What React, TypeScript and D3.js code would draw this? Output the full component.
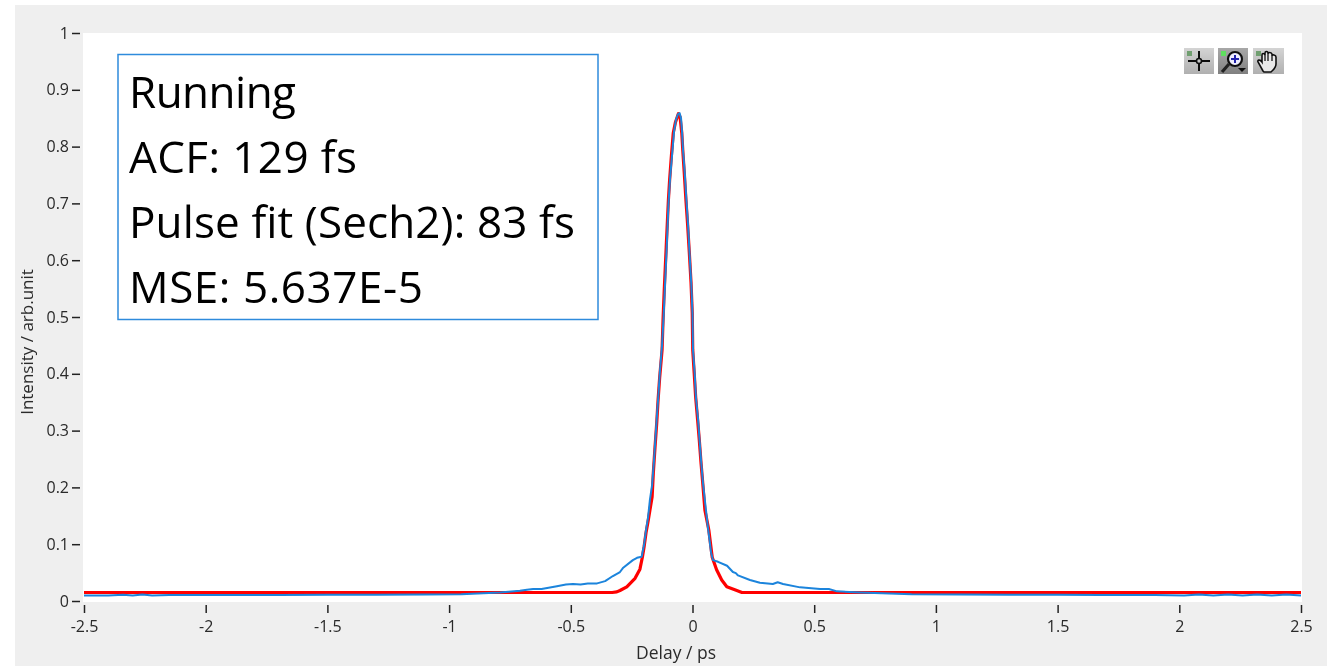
// App.tsx
import React, { useEffect, useRef } from "react";
import * as d3 from "d3";

const xTicks = [-2.5, -2, -1.5, -1, -0.5, 0, 0.5, 1, 1.5, 2, 2.5];
const yTicks = [0, 0.1, 0.2, 0.3, 0.4, 0.5, 0.6, 0.7, 0.8, 0.9, 1];
const infoLines = ["Running", "ACF: 129 fs", "Pulse fit (Sech2): 83 fs", "MSE: 5.637E-5"];
const infoWidths = [167, 228, 446, 294];

// fit curve
const fitDelay = [
  -2.5, -0.33, -0.311, -0.298, -0.27, -0.236, -0.216, -0.206, -0.199, -0.191, -0.183, -0.175, -0.166,
  -0.161, -0.154, -0.147, -0.142, -0.135, -0.125, -0.121, -0.116, -0.108, -0.099, -0.094, -0.087,
  -0.079, -0.07, -0.058, -0.051, -0.044, -0.04, -0.034, -0.027, -0.02, -0.013, -0.006, -0.001, 0.001,
  0.007, 0.013, 0.021, 0.028, 0.035, 0.042, 0.051, 0.067, 0.081, 0.099, 0.12, 0.141, 0.182, 0.203, 2.5,
];
const fitValue = [
  0.015, 0.015, 0.016, 0.0185, 0.025, 0.04, 0.056, 0.077, 0.095, 0.12, 0.139, 0.16, 0.183,
  0.225, 0.271, 0.313, 0.35, 0.393, 0.442, 0.495, 0.548, 0.623, 0.706, 0.741, 0.782,
  0.824, 0.843, 0.858, 0.852, 0.824, 0.794, 0.755, 0.706, 0.662, 0.613, 0.56, 0.507, 0.442,
  0.401, 0.359, 0.319, 0.283, 0.243, 0.208, 0.16, 0.125, 0.077, 0.055, 0.037, 0.025, 0.0185, 0.015, 0.015,
];

// measured trace
const traceDelay = [
  -2.5, -2.4, -2.34, -2.3, -2.26, -2.22, -2.15, -2.05, -1.9, -1.7, -1.5, -1.3, -1.1, -0.95, -0.791,
  -0.709, -0.68, -0.655, -0.62, -0.557, -0.52, -0.491, -0.46, -0.43, -0.392, -0.359, -0.327, -0.298, -0.286, -0.245, -0.228,
  -0.209, -0.199, -0.191, -0.183, -0.175, -0.166, -0.158, -0.152, -0.146, -0.14, -0.134, -0.125, -0.119,
  -0.113, -0.105, -0.099, -0.092, -0.084, -0.076, -0.068, -0.06, -0.053, -0.047, -0.043, -0.039, -0.032,
  -0.025, -0.018, -0.012, -0.005, 0, 0.002, 0.009, 0.014, 0.023, 0.029, 0.036, 0.043, 0.053, 0.062, 0.07,
  0.076, 0.084, 0.105, 0.142, 0.166, 0.178, 0.187, 0.236, 0.277, 0.33, 0.35, 0.372, 0.442, 0.524, 0.56, 0.594, 0.688,
  0.9, 1.1, 1.3, 1.5, 1.7, 1.9, 2.02, 2.08, 2.14, 2.2, 2.26, 2.32, 2.38, 2.44, 2.5,
];
const traceValue = [
  0.0095, 0.0095, 0.011, 0.0095, 0.0115, 0.0095, 0.0105, 0.0105, 0.0105, 0.0105, 0.011, 0.011, 0.0115, 0.012, 0.015,
  0.018, 0.02, 0.021, 0.021, 0.026, 0.029, 0.03, 0.029, 0.031, 0.031, 0.035, 0.044, 0.051, 0.058, 0.072, 0.076,
  0.078, 0.099, 0.125, 0.146, 0.178, 0.204, 0.248, 0.289, 0.327, 0.363, 0.403, 0.451, 0.498,
  0.556, 0.632, 0.697, 0.745, 0.785, 0.826, 0.847, 0.857, 0.859, 0.85, 0.826, 0.794, 0.755,
  0.706, 0.66, 0.611, 0.558, 0.505, 0.442, 0.401, 0.359, 0.319, 0.283, 0.243, 0.208, 0.169, 0.134, 0.107,
  0.086, 0.072, 0.069, 0.062, 0.051, 0.049, 0.045, 0.037, 0.032, 0.03, 0.033, 0.03, 0.024, 0.021, 0.021, 0.017, 0.015,
  0.012, 0.0115, 0.011, 0.011, 0.0105, 0.0105, 0.0095, 0.0115, 0.0095, 0.0115, 0.0095, 0.0115, 0.0095, 0.0115, 0.0095,
];

const labelFont = "'Open Sans', sans-serif";

// graph palette buttons, top right
function ToolButton({ x, w, dark, children }: { x: number; w: number; dark?: boolean; children: React.ReactNode }) {
  return (
    <g transform={`translate(${x},48)`}>
      <rect width={w} height={26} fill={dark ? "url(#btnDark)" : "url(#btnLight)"} />
      <rect x={3} y={3} width={5} height={5} fill={dark ? "#5fe05f" : "#6f9f6f"} />
      {children}
    </g>
  );
}

export default function App() {
  const xAxisRef = useRef<SVGGElement>(null);
  const yAxisRef = useRef<SVGGElement>(null);

  const x = d3.scaleLinear().domain([-2.5, 2.5]).range([84, 1301]);
  const y = d3.scaleLinear().domain([0, 1]).range([601, 33]);

  const fitPath = d3.line<number>().x((d) => x(d)).y((_, i) => y(fitValue[i]))(fitDelay);
  const tracePath = d3.line<number>().x((d) => x(d)).y((_, i) => y(traceValue[i]))(traceDelay);

  useEffect(() => {
    const xg = d3.select(xAxisRef.current);
    xg.call(d3.axisBottom(x).tickValues(xTicks).tickSize(8).tickSizeOuter(0).tickPadding(8).tickFormat((d) => String(d)) as any);
    const yg = d3.select(yAxisRef.current);
    yg.call(d3.axisLeft(y).tickValues(yTicks).tickSize(8).tickSizeOuter(0).tickPadding(3).tickFormat((d) => String(d)) as any);

    [xg, yg].forEach((g: any) => {
      g.select(".domain").remove();
      g.selectAll("line").attr("stroke", "#222").attr("stroke-width", 1.5);
      g.selectAll("text").attr("fill", "#2a2a2a").style("font", `16px ${labelFont}`);
    });
  }, []);

  return (
    <svg
      width={1327}
      height={666}
      style={{ position: "absolute", left: 0, top: 0, background: "#fff" }}
    >
      <defs>
        <filter id="soft" x="0" y="0" width="100%" height="100%">
          <feGaussianBlur stdDeviation={0.45} />
        </filter>
        <linearGradient id="btnLight" x1="0" y1="0" x2="0" y2="1">
          <stop offset="0" stopColor="#d4d4d4" />
          <stop offset="1" stopColor="#b0b0b0" />
        </linearGradient>
        <linearGradient id="btnDark" x1="0" y1="0" x2="0" y2="1">
          <stop offset="0" stopColor="#a8a8a8" />
          <stop offset="1" stopColor="#808080" />
        </linearGradient>
      </defs>
      <rect x={15} y={5} width={1312} height={661} fill="#efefef" />
      <rect x={83} y={33} width={1219} height={569} fill="#fff" />

      <g filter="url(#soft)">
        <path d={fitPath!} fill="none" stroke="#ff0000" strokeWidth={3.2} strokeLinejoin="round" />
        <path d={tracePath!} fill="none" stroke="#1b84dc" strokeWidth={2} strokeLinejoin="round" />

        <g ref={xAxisRef} transform="translate(0,605)" />
        <g ref={yAxisRef} transform="translate(80,0)" />

        <text x={676} y={659} textAnchor="middle" fontFamily={labelFont} fontSize={17.5} fill="#2a2a2a">
          Delay / ps
        </text>
        <text
          transform="translate(33,342) rotate(-90)"
          textAnchor="middle"
          fontFamily={labelFont}
          fontSize={17}
          fill="#2a2a2a"
        >
          Intensity / arb.unit
        </text>

        <rect x={118} y={54.5} width={480} height={265} fill="#fff" stroke="#2f8bdc" strokeWidth={1.5} />
        {infoLines.map((t, i) => (
          <text
            key={t}
            x={129}
            y={108 + i * 65}
            fontFamily={labelFont}
            fontSize={44}
            fill="#000"
            textLength={infoWidths[i]}
            lengthAdjust="spacing"
          >
            {t}
          </text>
        ))}

        <ToolButton x={1184} w={30}>
          <path d="M15 3V23M4 13H26" stroke="#111" strokeWidth={2} />
          <circle cx={15} cy={13} r={2.5} fill="#c6c6c6" stroke="#111" strokeWidth={1.6} />
        </ToolButton>
        <ToolButton x={1218} w={30} dark>
          <circle cx={17} cy={11} r={7} fill="#eef" stroke="#111" strokeWidth={2.2} />
          <path d="M13 11H21M17 7V15" stroke="#2222aa" strokeWidth={2} />
          <path d="M11 16L4 24" stroke="#222" strokeWidth={3.2} />
          <path d="M20 20H28L24 24Z" fill="#111" />
        </ToolButton>
        <ToolButton x={1253} w={31}>
          <path
            d="M10 23L5 14C4 12 7 11 9 14V7C9 5 11 5 12 7V5C12 3 15 3 15 5V6C15 4 18 4 19 6V8C19 6 23 7 23 9V16C23 20 20 22 18 24H11Z"
            fill="#e8e8e8"
            stroke="#111"
            strokeWidth={1.6}
          />
          <path d="M12 7V13M15 6V13M19 8V13" stroke="#111" strokeWidth={1.3} />
        </ToolButton>
      </g>
    </svg>
  );
}
